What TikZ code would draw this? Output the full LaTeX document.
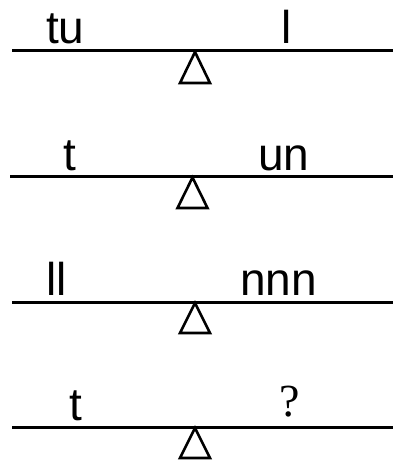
\documentclass[tikz,border=0pt]{standalone}
\usepackage{fontspec}
\setmainfont{Liberation Sans}
\newfontfamily\serifq{Liberation Serif}
\tikzset{
	beam/.style={line width=3pt},
	pivot/.style={line width=2.6pt, line join=miter},
	lbl/.style={anchor=base west, inner sep=0pt, font=\fontsize{46}{50}\selectfont},
}
\begin{document}
\begin{tikzpicture}[x=1pt,y=-1pt]
	\useasboundingbox (0,0) rectangle (393,460);
	% scale 1
	\draw[beam] (12,51) -- (393,51);
	\draw[pivot] (195,52) -- (210,83) -- (180,83) -- cycle;
	\node[lbl] (a1) at (46,44) {tu};
	\node[lbl] (b1) at (281,44) {l};
	% scale 2
	\draw[beam] (10,176.7) -- (393,176.7);
	\draw[pivot] (192.5,177.5) -- (207.5,208) -- (177.5,208) -- cycle;
	\node[lbl] (a2) at (63,170) {t};
	\node[lbl] (b2) at (258,170) {un};
	% scale 3
	\draw[beam] (12,302) -- (393,302);
	\draw[pivot] (195,303) -- (210,333) -- (180,333) -- cycle;
	\node[lbl] (a3) at (46,295) {ll};
	\node[lbl] (b3) at (240,295) {nnn};
	% scale 4
	\draw[beam] (12,427) -- (393,427);
	\draw[pivot] (195,428) -- (210,458) -- (180,458) -- cycle;
	\node[lbl] (a4) at (69,420) {t};
	\node[lbl, font=\serifq\fontsize{46}{50}\selectfont] (b4) at (279,416.5) {?};
\end{tikzpicture}
\end{document}
